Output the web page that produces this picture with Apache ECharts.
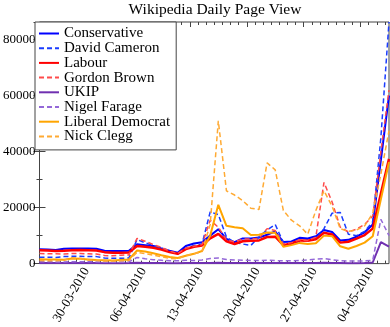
<!DOCTYPE html>
<html>
<head>
<meta charset="utf-8">
<script src="https://cdn.jsdelivr.net/npm/echarts@6.0.0/dist/echarts.min.js"></script>
<style>
  html, body { margin: 0; padding: 0; background: #fff; }
  #chart { width: 390px; height: 327px; }
</style>
</head>
<body>
<div id="chart"></div>
<script>
// one point per day, 25-03-2010 .. 07-05-2010
const dates = [
  '25-03-2010', '26-03-2010', '27-03-2010', '28-03-2010', '29-03-2010', '30-03-2010', '31-03-2010',
  '01-04-2010', '02-04-2010', '03-04-2010', '04-04-2010', '05-04-2010', '06-04-2010', '07-04-2010',
  '08-04-2010', '09-04-2010', '10-04-2010', '11-04-2010', '12-04-2010', '13-04-2010', '14-04-2010',
  '15-04-2010', '16-04-2010', '17-04-2010', '18-04-2010', '19-04-2010', '20-04-2010', '21-04-2010',
  '22-04-2010', '23-04-2010', '24-04-2010', '25-04-2010', '26-04-2010', '27-04-2010', '28-04-2010',
  '29-04-2010', '30-04-2010', '01-05-2010', '02-05-2010', '03-05-2010', '04-05-2010', '05-05-2010',
  '06-05-2010', '07-05-2010'
];

const tickLabels = ['30-03-2010', '06-04-2010', '13-04-2010', '20-04-2010', '27-04-2010', '04-05-2010'];

const conservative = [
  5100, 5000, 4900, 5300, 5400, 5400, 5400, 5300, 4600, 4500, 4500, 4600,
  6900, 6600, 6300, 5400, 4600, 3900, 6300, 7200, 7600,
  10000, 12300, 8800, 7700, 9000, 9000, 9300, 10300, 11500, 7700, 7900, 9200, 9000, 9800,
  12000, 11300, 8300, 8500, 9600, 11200, 14000, 37000, 60000
];
const davidCameron = [
  2300, 2300, 2200, 2500, 2600, 2600, 2500, 2500, 2000, 1900, 1900, 2000,
  8600, 7400, 6500, 5600, 4300, 3500, 5400, 6500, 7000,
  18500, 17500, 9500, 7500, 7000, 6500, 9500, 12000, 14000, 7500, 7000, 8000, 8500, 8800,
  12500, 18000, 18300, 10500, 10000, 11500, 15000, 45000, 86300
];
const labour = [
  4800, 4700, 4500, 4600, 4800, 4900, 4800, 4700, 4100, 3900, 3900, 4000,
  6300, 6000, 5700, 5000, 4100, 3500, 5200, 6000, 6500,
  9000, 10600, 8000, 7000, 8000, 8200, 8300, 9500, 9600, 6600, 7200, 8300, 8200, 8700,
  11000, 10400, 7500, 7800, 8900, 10200, 12500, 25000, 37400
];
const gordonBrown = [
  3600, 3500, 3500, 3400, 3600, 3600, 3500, 3400, 2900, 2800, 3000, 3100,
  9000, 8000, 6800, 5800, 4500, 3600, 5500, 6200, 6800,
  15500, 13000, 8500, 7800, 8800, 8800, 9000, 12500, 11800, 7000, 7500, 8500, 8200, 9500,
  29000, 22000, 13000, 11300, 12300, 14000, 17000, 40000, 62000
];
const ukip = [
  200, 200, 200, 200, 250, 200, 200, 200, 150, 150, 150, 200,
  300, 250, 200, 200, 150, 150, 200, 200, 200,
  250, 300, 250, 200, 200, 200, 200, 250, 200, 200, 200, 200, 200, 250,
  300, 250, 200, 150, 150, 200, 400, 7700, 6100
];
const nigelFarage = [
  700, 700, 600, 600, 700, 700, 700, 600, 600, 500, 600, 600,
  2200, 1700, 1400, 1200, 1000, 1000, 1200, 1100, 1300,
  1800, 2000, 1500, 1300, 1200, 1100, 1100, 1200, 1100, 1000, 1000, 1100, 1300, 1600,
  1800, 1400, 1000, 900, 900, 1000, 1200, 15800, 10000
];
const liberalDemocrat = [
  1600, 1500, 1500, 1400, 1800, 1700, 1500, 1300, 1200, 1100, 1300, 1500,
  4700, 4300, 3700, 3000, 2400, 2000, 2800, 3500, 4500,
  10000, 21000, 13500, 13000, 12600, 10200, 10300, 11100, 11000, 6000, 6600, 7400, 7000, 7300,
  10000, 9800, 6200, 5300, 6300, 7500, 9800, 23000, 36300
];
const nickClegg = [
  1100, 1000, 1000, 1200, 2100, 1900, 1300, 1100, 900, 900, 1000, 1100,
  4000, 3600, 3000, 2500, 1900, 1700, 2900, 3500, 4300,
  14000, 51000, 26000, 24500, 22500, 19800, 19300, 36000, 33500, 19000, 15500, 13500, 10500, 19000,
  26000, 20500, 12500, 11500, 12000, 13500, 18000, 32000, 47500
];

const serif = 'Liberation Serif';
const yMax = 86300;
const xMax = dates.length - 1;

// ticks sit at midnight, half a day before each point
const majorTicks = tickLabels.map(l => dates.indexOf(l) - 0.5);
const minorTicks = dates.slice(1).map((d, i) => i + 0.5);
const labelShift = 1.3;
const labelPos = majorTicks.map(t => t + labelShift);

const toPairs = arr => arr.map((v, i) => [i, v]);

const chart = echarts.init(document.getElementById('chart'), null, { renderer: 'canvas' });

function xAx(position, ticks, len, withLabels) {
  return {
    type: 'value',
    position: position,
    min: 0,
    max: xMax,
    axisLine: { show: false },
    splitLine: { show: false },
    axisTick: { show: true, inside: true, length: len, customValues: ticks, lineStyle: { color: '#444', width: 1 } },
    axisLabel: withLabels ? {
      show: true,
      customValues: labelPos,
      rotate: 60,
      margin: 5,
      color: '#000',
      fontFamily: serif,
      fontSize: 13,
      formatter: v => {
        let best = 0;
        labelPos.forEach((p, k) => { if (Math.abs(p - v) < Math.abs(labelPos[best] - v)) best = k; });
        return tickLabels[best];
      }
    } : { show: false }
  };
}

function yAx(position, withLabels) {
  return {
    type: 'value',
    position: position,
    min: 0,
    max: yMax,
    interval: 20000,
    axisLine: { show: false },
    splitLine: { show: false },
    axisTick: { show: true, inside: true, length: 6, lineStyle: { color: '#444' } },
    minorTick: { show: true, splitNumber: 2, length: 3, lineStyle: { color: '#444' } },
    axisLabel: withLabels ? {
      show: true, showMaxLabel: false, margin: 4, color: '#000', fontFamily: serif, fontSize: 13,
      formatter: v => String(v)
    } : { show: false }
  };
}

function line(name, data, color, width, dashed) {
  return {
    name: name,
    type: 'line',
    data: toPairs(data),
    symbol: 'none',
    itemStyle: { color: color },
    lineStyle: { color: color, width: width, type: dashed ? [5, 3] : 'solid' }
  };
}

const option = {
  animation: false,
  backgroundColor: '#fff',
  title: {
    text: 'Wikipedia Daily Page View',
    left: 210,
    top: -3,
    textAlign: 'center',
    textStyle: { fontFamily: serif, fontSize: 15.5, fontWeight: 'normal', color: '#000' }
  },
  grid: {
    left: 35, right: 1, top: 22, bottom: 58,
    show: true, borderColor: '#444', borderWidth: 1, backgroundColor: 'transparent'
  },
  legend: {
    orient: 'vertical',
    left: 35,
    top: 22,
    padding: [4, 6, 6, 3],
    itemWidth: 20,
    itemHeight: 14,
    itemGap: -0.3,
    backgroundColor: '#fff',
    borderColor: '#444',
    borderWidth: 1,
    borderRadius: 0,
    itemStyle: { opacity: 0 },
    textStyle: { fontFamily: serif, fontSize: 15, color: '#000' },
    data: ['Conservative', 'David Cameron', 'Labour', 'Gordon Brown', 'UKIP', 'Nigel Farage',
      'Liberal Democrat', 'Nick Clegg']
  },
  xAxis: [
    xAx('bottom', majorTicks, 5, true),
    xAx('bottom', minorTicks, 3, false),
    xAx('top', majorTicks, 5, false),
    xAx('top', minorTicks, 3, false)
  ],
  yAxis: [yAx('left', true), yAx('right', false)],
  series: [
    line('Conservative', conservative, '#0000ff', 2, false),
    line('David Cameron', davidCameron, '#1a3cff', 1.5, true),
    line('Labour', labour, '#ff0000', 2.5, false),
    line('Gordon Brown', gordonBrown, '#ff4b4b', 1.5, true),
    line('UKIP', ukip, '#7030b0', 2, false),
    line('Nigel Farage', nigelFarage, '#9468d8', 1.5, true),
    line('Liberal Democrat', liberalDemocrat, '#ffa500', 2, false),
    line('Nick Clegg', nickClegg, '#ffaa33', 1.5, true)
  ]
};

chart.setOption(option);
</script>
</body>
</html>
